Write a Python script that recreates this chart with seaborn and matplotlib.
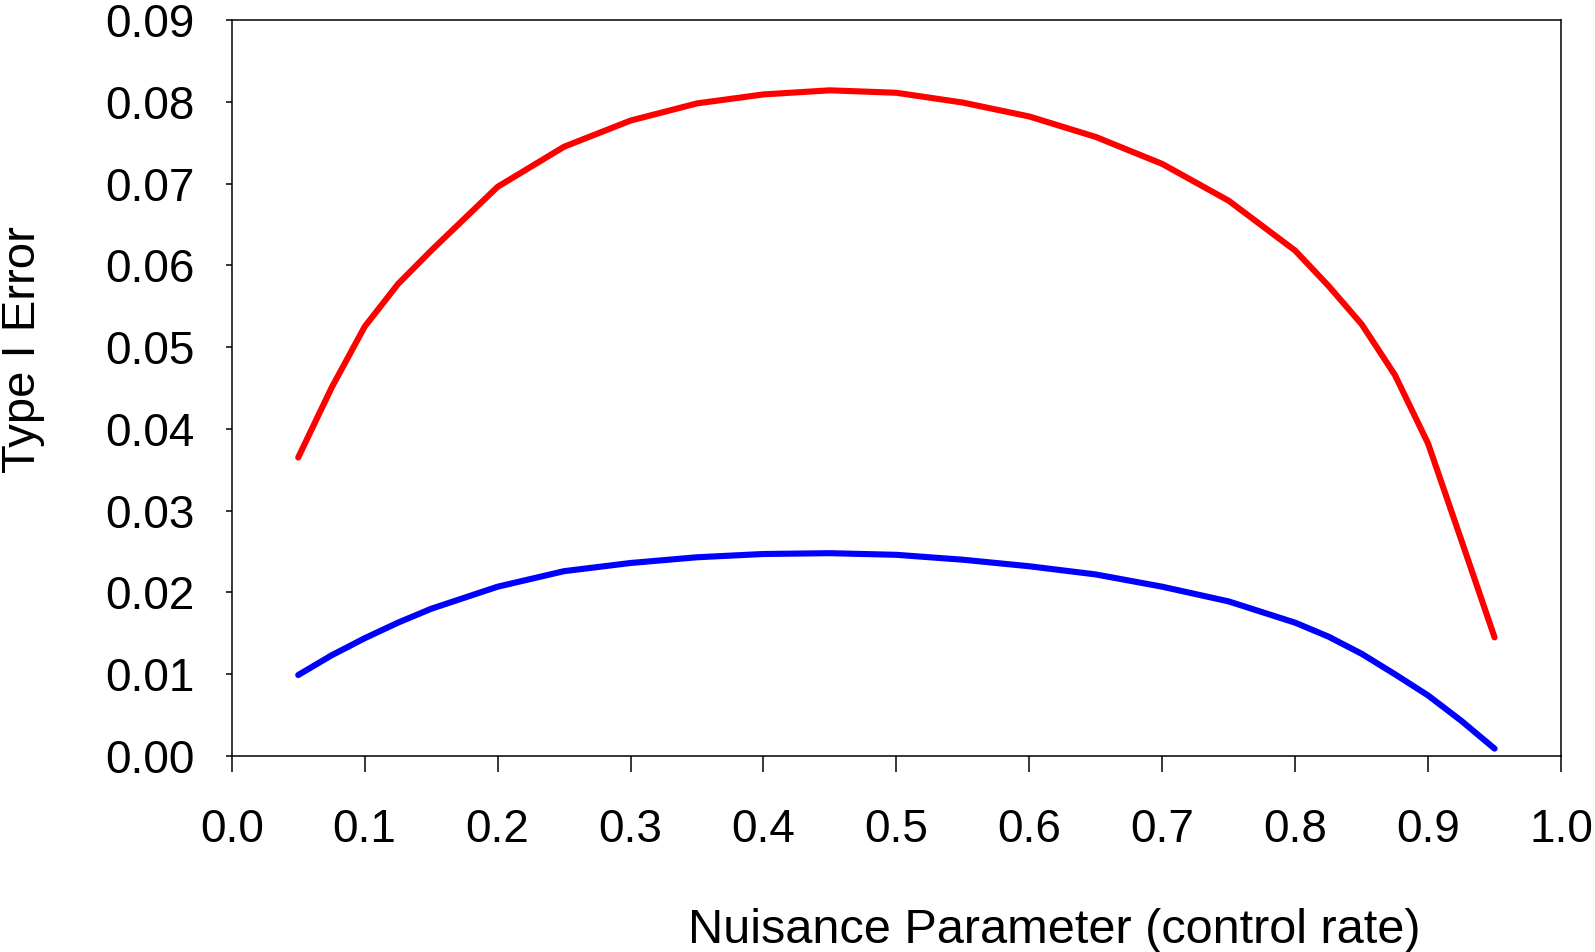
import numpy as np
import pandas as pd
import matplotlib
matplotlib.use("Agg")
import matplotlib.pyplot as plt
import seaborn as sns
from matplotlib.ticker import FormatStrFormatter, MultipleLocator

# Data
control_rate = [0.05, 0.075, 0.10, 0.125, 0.15, 0.20, 0.25, 0.30, 0.35, 0.40, 0.45,
                0.50, 0.55, 0.60, 0.65, 0.70, 0.75, 0.80, 0.825, 0.85, 0.875,
                0.90, 0.925, 0.95]
red_error = [0.0365, 0.0450, 0.0525, 0.0577, 0.0618, 0.0696, 0.0745, 0.0777, 0.0798,
             0.0809, 0.0814, 0.0811, 0.0799, 0.0782, 0.0757, 0.0724, 0.0679, 0.0618,
             0.0575, 0.0528, 0.0466, 0.0382, 0.0264, 0.0145]
blue_error = [0.0099, 0.0123, 0.0144, 0.0163, 0.0180, 0.0207, 0.0226, 0.0236, 0.0243,
              0.0247, 0.0248, 0.0246, 0.0240, 0.0232, 0.0222, 0.0207, 0.0189, 0.0163,
              0.0146, 0.0125, 0.0100, 0.0074, 0.0043, 0.0009]
series_names = ["Red", "Blue"]
series_colors = ["#FF0000", "#0000FF"]

df = pd.DataFrame({
    "x": control_rate * 2,
    "y": red_error + blue_error,
    "series": [series_names[0]] * len(control_rate) + [series_names[1]] * len(control_rate),
})

sns.set_style("white")
plt.rcParams["font.family"] = ["Liberation Sans", "DejaVu Sans"]
plt.rcParams["text.color"] = "black"
plt.rcParams["axes.labelcolor"] = "black"

fig = plt.figure(figsize=(15.95, 9.52), dpi=100)
ax = fig.add_axes([0.1453, 0.2059, 0.9787 - 0.1453, 0.979 - 0.2059])

sns.lineplot(data=df, x="x", y="y", hue="series", palette=series_colors,
             linewidth=4.4, legend=False, ax=ax, sort=False, estimator=None)

ax.set_xlim(0, 1.0)
ax.set_ylim(0, 0.09)
ax.xaxis.set_major_locator(MultipleLocator(0.1))
ax.yaxis.set_major_locator(MultipleLocator(0.01))
ax.xaxis.set_major_formatter(FormatStrFormatter("%.1f"))
ax.yaxis.set_major_formatter(FormatStrFormatter("%.2f"))

for s in ax.spines.values():
    s.set_visible(True)
    s.set_color("black")
    s.set_linewidth(1.1)

ax.tick_params(axis="x", direction="out", length=11.5, width=1.1, pad=26,
               labelsize=33, colors="black", bottom=True, top=False)
ax.tick_params(axis="y", direction="out", length=4.5, width=1.1, pad=22,
               labelsize=33, colors="black", left=True, right=False)

ax.set_xlabel("Nuisance Parameter (control rate)", fontsize=35, color="black")
ax.set_ylabel("Type I Error", fontsize=34, color="black")
ax.xaxis.set_label_coords(0.619, -0.2065)
ax.yaxis.set_label_coords(-0.1404, 0.5516)

fig.savefig("out.png", dpi=100)
